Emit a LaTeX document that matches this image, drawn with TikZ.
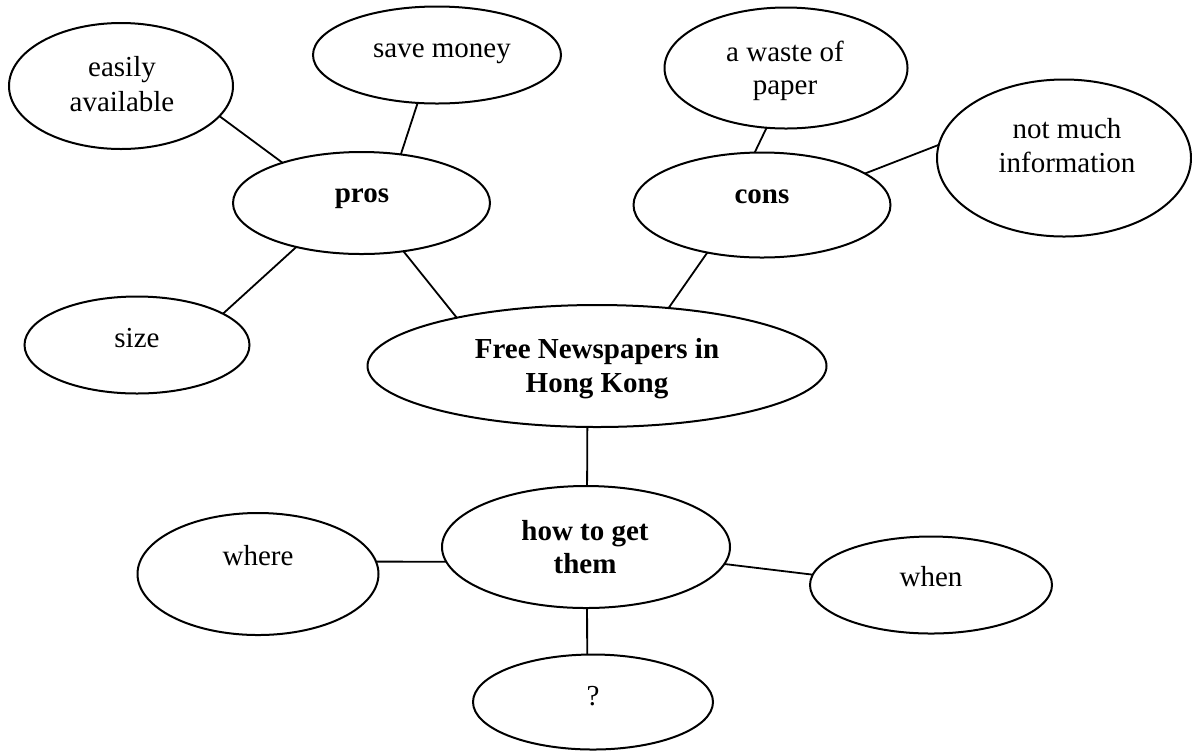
\documentclass[tikz,border=0pt]{standalone}
\usepackage{fontspec}
\setmainfont{Liberation Serif}
\usetikzlibrary{shapes.geometric}
\begin{document}
\begin{tikzpicture}[x=0.5pt,y=-0.5pt,
  bub/.style={ellipse,draw,line width=1pt,inner sep=0pt,outer sep=0pt},
  txt/.style={anchor=base,inner sep=0pt,font=\fontsize{14.5}{17}\selectfont},
  btxt/.style={txt,font=\fontsize{14.5}{17}\selectfont\bfseries},
  link/.style={line width=0.9pt}]
\useasboundingbox (0,0) rectangle (1192,751);
% ellipses
\node[bub,minimum width=112pt,minimum height=63pt] (easily) at (121,86) {};
\node[bub,minimum width=124pt,minimum height=48.5pt] (save) at (437,55) {};
\node[bub,minimum width=128.5pt,minimum height=51pt] (pros) at (361.5,203) {};
\node[bub,minimum width=112.5pt,minimum height=48.5pt] (size) at (137,345) {};
\node[bub,minimum width=121.5pt,minimum height=60.5pt] (waste) at (786,68) {};
\node[bub,minimum width=127pt,minimum height=78.5pt] (notmuch) at (1064,158) {};
\node[bub,minimum width=128.5pt,minimum height=52.5pt] (cons) at (762,205) {};
\node[bub,minimum width=229.5pt,minimum height=61pt] (free) at (597,366) {};
\node[bub,minimum width=144pt,minimum height=61pt] (how) at (586,547) {};
\node[bub,minimum width=120.5pt,minimum height=61pt] (where) at (258,574) {};
\node[bub,minimum width=121pt,minimum height=48.5pt] (when) at (931,585) {};
\node[bub,minimum width=120pt,minimum height=47.5pt] (q) at (593,702) {};
% texts
\node[txt] (easilyA) at (122,76) {easily};
\node[txt] (easilyB) at (122,111) {available};
\node[txt] (saveT) at (442,57) {save money};
\node[btxt] (prosT) at (362,202) {pros};
\node[txt] (sizeT) at (137,347) {size};
\node[txt] (wasteA) at (785,61) {a waste of};
\node[txt] (wasteB) at (785,94) {paper};
\node[txt] (notmuchA) at (1067,138) {not much};
\node[txt] (notmuchB) at (1067,172) {information};
\node[btxt] (consT) at (762,203) {cons};
\node[btxt] (freeA) at (597,358) {Free Newspapers in};
\node[btxt] (freeB) at (597,392) {Hong Kong};
\node[btxt] (howA) at (585,540) {how to get};
\node[btxt] (howB) at (585,573) {them};
\node[txt] (whereT) at (258,565) {where};
\node[txt] (whenT) at (931,586) {when};
\node[txt] (qT) at (593,705) {?};
% connectors
\draw[link] (easily.-17) -- (pros.153);
\draw[link] (save.-112) -- (pros.51);
\draw[link] (pros.-146) -- (size.20);
\draw[link] (pros.-49) -- (free.161.6);
\draw[link] (waste.-108.4) -- (cons.98.7);
\draw[link] (cons.17.9) -- (notmuch.174.6);
\draw[link] (cons.-139.9) -- (free.39.7);
\draw[link] (free.-99.3) -- (how.89.1);
\draw[link] (where.6.65) -- (how.-174.8);
\draw[link] (how.-7.9) -- (when.175.7);
\draw[link] (how.-89.1) -- (q.97.3);
\end{tikzpicture}
\end{document}
